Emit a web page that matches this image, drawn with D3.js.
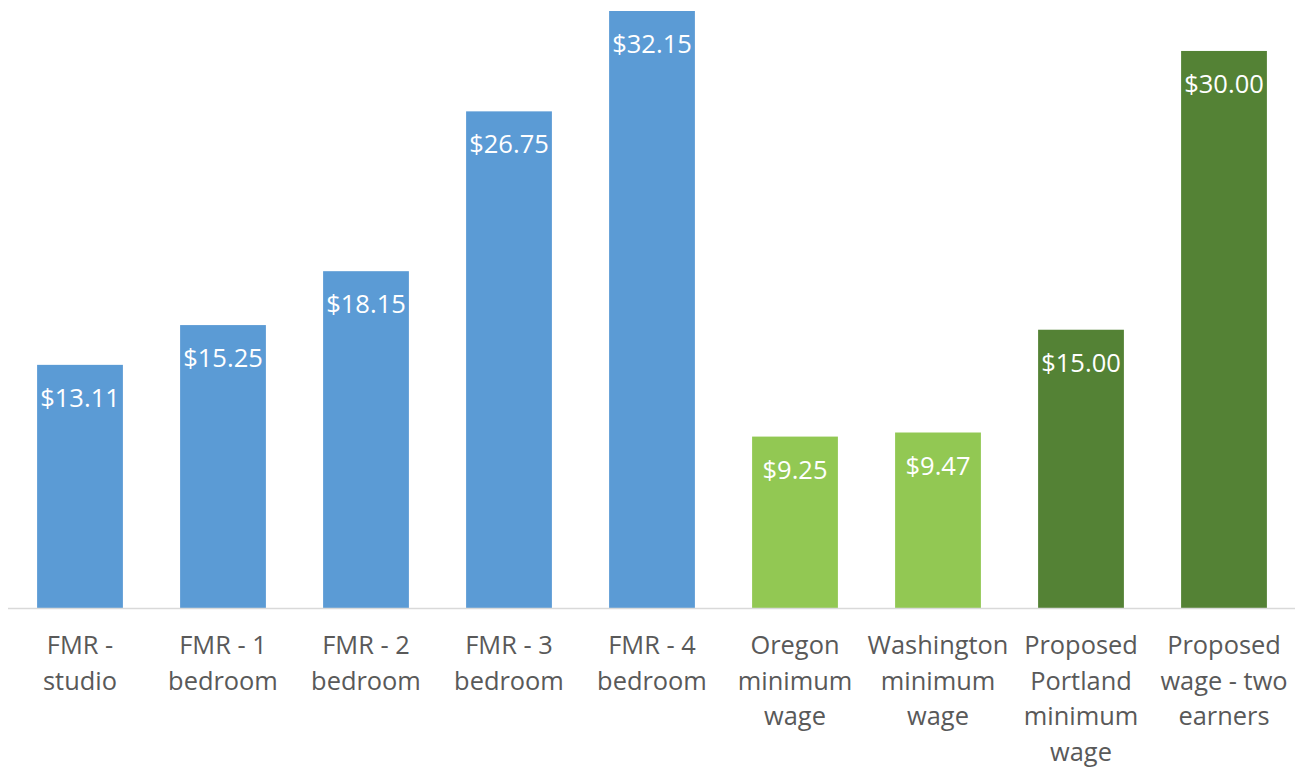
<!DOCTYPE html>
<html><head><meta charset="utf-8">
<script src="https://cdn.jsdelivr.net/npm/d3@7"></script>
<style>body{margin:0;background:#fff}svg{display:block}</style>
</head><body>
<script>
const categories = [
  ["FMR -","studio"],
  ["FMR - 1","bedroom"],
  ["FMR - 2","bedroom"],
  ["FMR - 3","bedroom"],
  ["FMR - 4","bedroom"],
  ["Oregon","minimum","wage"],
  ["Washington","minimum","wage"],
  ["Proposed","Portland","minimum","wage"],
  ["Proposed","wage - two","earners"]
];
const values = [13.11, 15.25, 18.15, 26.75, 32.15, 9.25, 9.47, 15.00, 30.00];
const groups = ["fmr","fmr","fmr","fmr","fmr","current","current","proposed","proposed"];
const groupColors = {fmr:"#5B9BD5", current:"#92C853", proposed:"#548235"};

const W = 1301, H = 767;
const svg = d3.select("body").append("svg").attr("width", W).attr("height", H);
const idx = d3.range(values.length);
const x = d3.scaleBand().domain(idx).range([8.5, 1295.5]).paddingInner(0.4).paddingOuter(0.2);
const y = d3.scaleLinear().domain([0, 32.15]).range([608.5, 11]);

svg.append("g").selectAll("rect").data(idx).join("rect")
  .attr("x", i => x(i)).attr("width", x.bandwidth())
  .attr("y", i => y(values[i])).attr("height", i => y(0) - y(values[i]))
  .attr("fill", i => groupColors[groups[i]]);

svg.append("line").attr("x1", 8).attr("x2", 1295).attr("y1", 608.5).attr("y2", 608.5)
  .attr("stroke", "#d9d9d9").attr("stroke-width", 1.5);

svg.append("g").selectAll("text").data(idx).join("text")
  .attr("x", i => x(i) + x.bandwidth()/2).attr("y", i => y(values[i]) + 42)
  .attr("text-anchor", "middle").attr("fill", "#fff")
  .style("font-family", "'Open Sans', sans-serif").style("font-size", "25.5px")
  .text(i => "$" + d3.format(".2f")(values[i]));

const lab = svg.append("g").selectAll("text").data(idx).join("text")
  .attr("text-anchor", "middle").attr("fill", "#595959")
  .style("font-family", "'Open Sans', sans-serif").style("font-size", "25.4px");
lab.each(function(i){
  const t = d3.select(this);
  categories[i].forEach((line, k) => {
    t.append("tspan").attr("x", x(i) + x.bandwidth()/2).attr("y", 654 + k*35.5).text(line);
  });
});
</script>
</body></html>
